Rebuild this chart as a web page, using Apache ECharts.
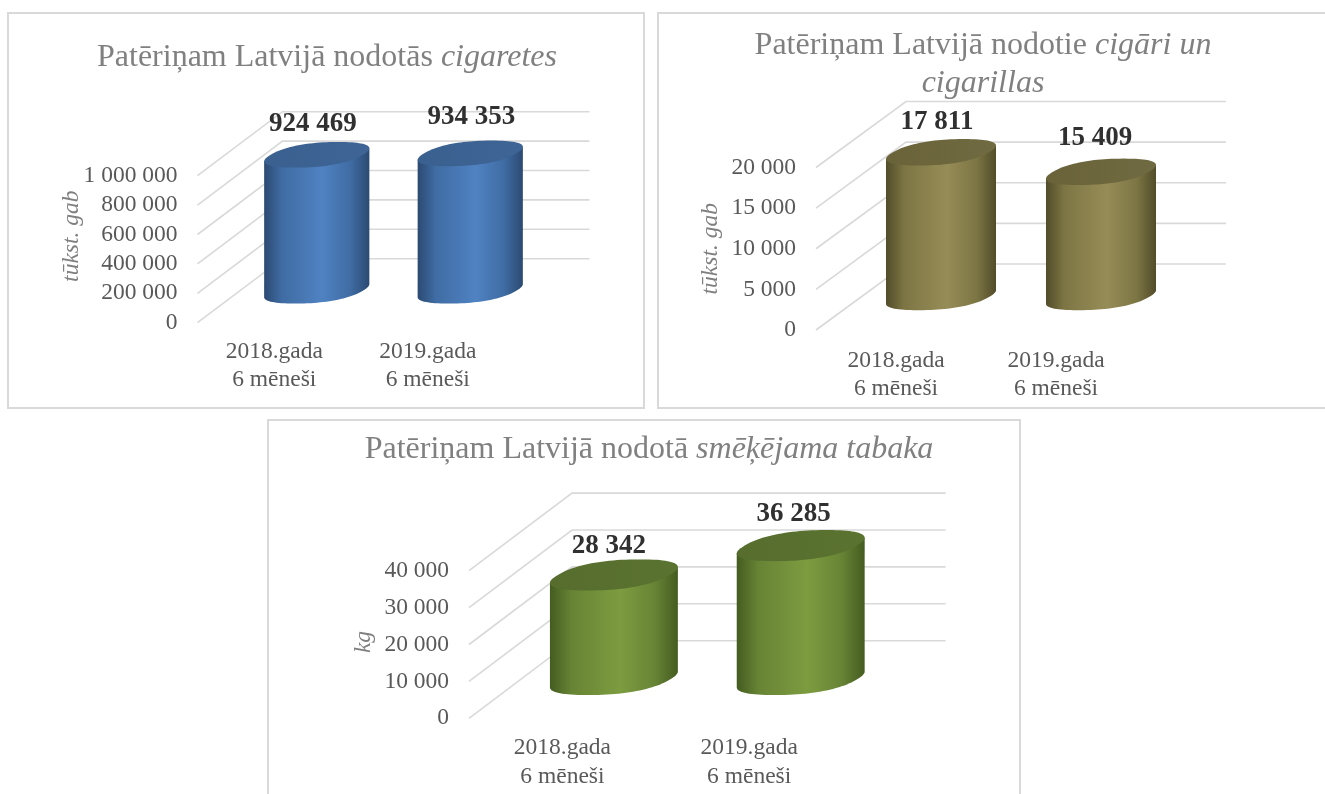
<!DOCTYPE html>
<html><head><meta charset="utf-8">
<style>html,body{margin:0;padding:0;background:#fff}#c{width:1325px;height:794px}</style>
<script src="https://cdn.jsdelivr.net/npm/echarts@6/dist/echarts.min.js"></script>
</head><body><div id="c"></div>
<script>
const categories = ['2018.gada\n6 mēneši', '2019.gada\n6 mēneši'];
const cigaretes = [924469, 934353];
const cigari = [17811, 15409];
const tabaka = [28342, 36285];
const ticksCigaretes = [0, 200000, 400000, 600000, 800000, 1000000];
const ticksCigari = [0, 5000, 10000, 15000, 20000];
const ticksTabaka = [0, 10000, 20000, 30000, 40000];

const SERIF = '"Liberation Serif","Times New Roman",serif';
const fmt = v => String(v).replace(/\B(?=(\d{3})+(?!\d))/g, ' ');

const panels = [
  { values: cigaretes, ticks: ticksCigaretes, name: 'tūkst. gab', grid: {left:197.5, top:175.7, width:307, height:147},
    depth:[85,-64], nameGap:114, namePad:26, margin:15, lh:28, colors:['#2c4a72','#3f6ca3','#5082c2','#3f6ca3','#2c4a72'], cap:['#39608f','#3e6595'],
    nudge:[[-4,2],[1,-3]], title:'{n|Patēriņam Latvijā nodotās }{i|cigaretes}', tx:322, ty:34 },
  { values: cigari, ticks: ticksCigari, name: 'tūkst. gab', grid: {left:816, top:167.5, width:320, height:162.5},
    depth:[90,-66], nameGap:94, namePad:0, margin:17, lh:28, colors:['#524c2a','#7d7644','#968c57','#7d7644','#524c2a'], cap:['#6a6339','#706a42'],
    nudge:[[-4,3],[-6,-1]], title:'{n|Patēriņam Latvijā nodotie }{i|cigāri un}\n{i|cigarillas}', tx:978, ty:22 },
  { values: tabaka, ticks: ticksTabaka, name: 'kg', grid: {left:469, top:570.7, width:373.6, height:147.6},
    depth:[103,-77.6], nameGap:94, namePad:5, margin:15, lh:29, colors:['#445c20','#678435','#7d9c40','#678435','#445c20'], cap:['#566d2e','#5b7330'],
    nudge:[[-5,4],[-7,1]], title:'{n|Patēriņam Latvijā nodotā }{i|smēķējama tabaka}', tx:644, ty:426 }
];

function wallItem(p) {
  return function (params, api) {
    const v = api.value(0);
    const band = api.size([1, 0])[0];
    const c = api.coord([0, v]);
    const x0 = c[0] - band / 2, y0 = c[1];
    const x1 = x0 + p.depth[0], y1 = y0 + p.depth[1];
    return { type:'polyline', silent:true,
      shape:{ points:[[x0,y0],[x1,y1],[x1+band*2,y1]] },
      style:{ fill:null, stroke:'#d9d9d9', lineWidth:1.6 } };
  };
}
function cylinderItem(p, ratio) {
  return function (params, api) {
    const cat = api.value(0), val = api.value(1), i = params.dataIndex;
    const band = api.size([1, 0])[0];
    const base = api.coord([cat, 0]), top = api.coord([cat, val]);
    const cx = base[0] + p.depth[0] / 2;
    const by = base[1] + p.depth[1] / 2, ty = top[1] + p.depth[1] / 2;
    const Dx = p.depth[0] * 0.25, Dy = p.depth[1] * 0.2, a = band / 2 * ratio;
    const sp = u => Math.sign(u) * Math.pow(Math.abs(u), 0.85);
    const pt = (y, k) => {
      const t = 2 * Math.PI * k / 96, c = sp(Math.cos(t)), s = sp(Math.sin(t));
      return [cx + a * c + Dx * s, y + Dy * s];
    };
    let iR = 0, iL = 0;
    for (let k = 0; k < 96; k++) {
      if (pt(0, k)[0] > pt(0, iR)[0]) iR = k;
      if (pt(0, k)[0] < pt(0, iL)[0]) iL = k;
    }
    const body = [], capPts = [];
    // walk the lower (front) arc of the base from the right silhouette to the left one
    for (let k = iR; ; k--) {
      const m = (k + 96) % 96;
      body.push(pt(by, m));
      if (m === iL) break;
    }
    body.push(pt(ty, iL), pt(ty, iR));
    for (let k = 0; k < 96; k++) capPts.push(pt(ty, k));
    const cs = p.colors, n = p.nudge[i];
    return { type:'group', children:[
      { type:'polygon', shape:{points:body}, style:{ fill:new echarts.graphic.LinearGradient(0,0,1,0,[
        {offset:0,color:cs[0]},{offset:.17,color:cs[1]},{offset:.55,color:cs[2]},{offset:.82,color:cs[3]},{offset:1,color:cs[4]}]) } },
      { type:'polygon', shape:{points:capPts}, style:{ fill:new echarts.graphic.LinearGradient(0,0,1,0,[
        {offset:0,color:p.cap[0]},{offset:1,color:p.cap[1]}]) } },
      { type:'text', z2:10, style:{ text:fmt(val), x:cx+n[0], y:ty-33+n[1], align:'center', verticalAlign:'middle',
        font:'bold 27px '+SERIF, fill:'#303030' } }
    ]};
  };
}

const titleStyle = { fontFamily:SERIF, fontSize:32, fontWeight:'normal', color:'#808080' };
const option = {
  backgroundColor:'#ffffff', animation:false,
  graphic:[
    {type:'rect',shape:{x:8,y:13,width:636,height:395},style:{fill:'none',stroke:'#d9d9d9',lineWidth:2},silent:true},
    {type:'rect',shape:{x:658,y:13,width:700,height:395},style:{fill:'none',stroke:'#d9d9d9',lineWidth:2},silent:true},
    {type:'rect',shape:{x:268,y:420,width:752,height:400},style:{fill:'none',stroke:'#d9d9d9',lineWidth:2},silent:true}
  ],
  title:[], grid:[], xAxis:[], yAxis:[], series:[]
};
panels.forEach((p, i) => {
  option.title.push({ text:p.title, left:p.tx, top:p.ty, textAlign:'center',
    textStyle:{ fontWeight:'normal', rich:{ n:{...titleStyle, lineHeight:38}, i:{...titleStyle, fontStyle:'italic', lineHeight:38} }, lineHeight:38 } });
  option.grid.push(p.grid);
  option.xAxis.push({ type:'category', gridIndex:i, data:categories,
    axisLine:{show:false}, axisTick:{show:false}, splitLine:{show:false},
    axisLabel:{ fontFamily:SERIF, fontSize:23.5, color:'#595959', lineHeight:p.lh, margin:p.margin, interval:0 } });
  option.yAxis.push({ type:'value', gridIndex:i, min:0, max:p.ticks[p.ticks.length-1], interval:p.ticks[1],
    name:p.name, nameLocation:'middle', nameGap:p.nameGap, nameRotate:90, nameMoveOverlap:false,
    nameTextStyle:{ fontFamily:SERIF, fontSize:23.5, fontStyle:'italic', color:'#7f7f7f', padding:[0,0,0,p.namePad] },
    axisLine:{show:false}, axisTick:{show:false}, splitLine:{show:false},
    axisLabel:{ fontFamily:SERIF, fontSize:23.5, color:'#595959', margin:20, formatter:v=>fmt(v) } });
  option.series.push({ type:'custom', xAxisIndex:i, yAxisIndex:i, z:1, clip:false, silent:true,
    renderItem:wallItem(p), data:p.ticks.map(v=>[v]), encode:{y:0} });
  option.series.push({ type:'custom', xAxisIndex:i, yAxisIndex:i, z:2, clip:false, silent:true,
    renderItem:cylinderItem(p, 0.6), data:p.values.map((v,k)=>[k,v]), encode:{x:0,y:1} });
});
echarts.init(document.getElementById('c'), null, {renderer:'canvas'}).setOption(option);
</script></body></html>
